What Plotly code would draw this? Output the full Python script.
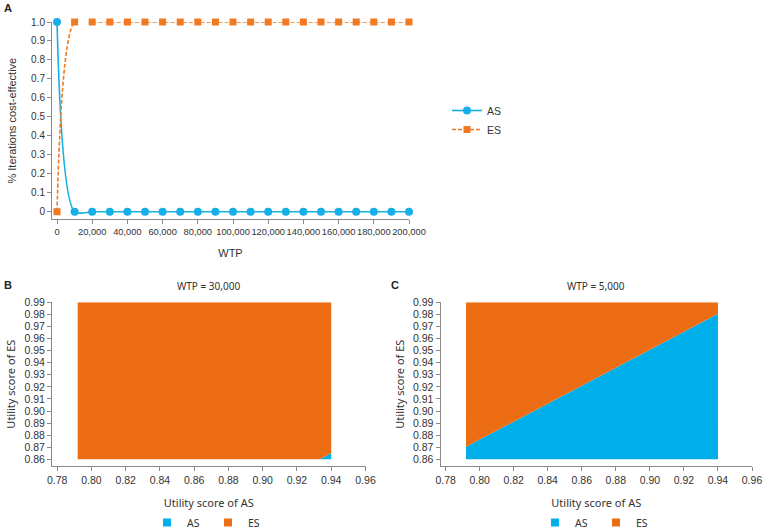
import plotly.graph_objects as go

# ---------------- data ----------------
wtp = [0, 10000, 20000, 30000, 40000, 50000, 60000, 70000, 80000, 90000, 100000,
       110000, 120000, 130000, 140000, 150000, 160000, 170000, 180000, 190000, 200000]
as_prob = [1.0, 0, 0, 0, 0, 0, 0, 0, 0, 0, 0, 0, 0, 0, 0, 0, 0, 0, 0, 0, 0]
es_prob = [0, 1.0, 1.0, 1.0, 1.0, 1.0, 1.0, 1.0, 1.0, 1.0, 1.0, 1.0, 1.0, 1.0, 1.0,
           1.0, 1.0, 1.0, 1.0, 1.0, 1.0]
a_yticks = [0, 0.1, 0.2, 0.3, 0.4, 0.5, 0.6, 0.7, 0.8, 0.9, 1.0]
a_yticktext = ["0", "0.1", "0.2", "0.3", "0.4", "0.5", "0.6", "0.7", "0.8", "0.9", "1.0"]
a_xticks = [0, 20000, 40000, 60000, 80000, 100000, 120000, 140000, 160000, 180000, 200000]

es_util_min = 0.86
es_util_max = 0.99
# WTP = 30,000 : boundary of ES utility where AS and ES are equally preferred
b_as_util = [0.792, 0.9334, 0.94]
b_es_bound = [0.86, 0.86, 0.8652]
# WTP = 5,000
c_as_util = [0.792, 0.94]
c_es_bound = [0.8704, 0.9805]

util_xticks = [0.78, 0.80, 0.82, 0.84, 0.86, 0.88, 0.90, 0.92, 0.94, 0.96]
util_yticks = [0.86, 0.87, 0.88, 0.89, 0.90, 0.91, 0.92, 0.93, 0.94, 0.95, 0.96, 0.97, 0.98, 0.99]

# ---------------- style ----------------
W, H = 763, 532
BLUE_LINE = "#17B0E6"
ORANGE_LINE = "#F07A22"
BLUE_FILL = "#00AEEA"
ORANGE_FILL = "#EC6D14"
AXIS_COL = "#8a8a8a"
TXT = "#333333"
TICKFONT = dict(family="Liberation Sans, Arial", size=10.5, color=TXT)
TITLEFONT = dict(family="Noto Sans, Open Sans", size=11, color=TXT)


def px_x(p):
    return p / W


def px_y(p):
    return 1 - p / H


fig = go.Figure()

# Panel A
fig.add_trace(go.Scatter(x=wtp, y=as_prob, name="AS", mode="lines+markers",
                         line=dict(color=BLUE_LINE, width=1.6, shape="spline", smoothing=0.8),
                         marker=dict(symbol="circle", size=8, color=BLUE_LINE),
                         xaxis="x", yaxis="y", legend="legend", cliponaxis=False))
fig.add_trace(go.Scatter(x=wtp, y=es_prob, name="ES", mode="lines+markers",
                         line=dict(color=ORANGE_LINE, width=1.6, dash="4px,2px", shape="spline", smoothing=0.8),
                         marker=dict(symbol="square", size=7, color=ORANGE_LINE),
                         xaxis="x", yaxis="y", legend="legend", cliponaxis=False))


def add_region(as_util, es_bound, xa, ya, leg):
    n = len(as_util)
    fig.add_trace(go.Scatter(x=as_util, y=[es_util_min] * n, mode="lines",
                             line=dict(width=0), showlegend=False, hoverinfo="skip",
                             xaxis=xa, yaxis=ya))
    fig.add_trace(go.Scatter(x=as_util, y=es_bound, mode="lines", fill="tonexty",
                             fillcolor=BLUE_FILL, line=dict(width=0), showlegend=False,
                             xaxis=xa, yaxis=ya))
    fig.add_trace(go.Scatter(x=as_util, y=[es_util_max] * n, mode="lines", fill="tonexty",
                             fillcolor=ORANGE_FILL, line=dict(width=0), showlegend=False,
                             xaxis=xa, yaxis=ya))
    # legend entries
    fig.add_trace(go.Scatter(x=[None], y=[None], name="AS", mode="markers",
                             marker=dict(symbol="square", size=8, color=BLUE_FILL),
                             xaxis=xa, yaxis=ya, legend=leg))
    fig.add_trace(go.Scatter(x=[None], y=[None], name="ES", mode="markers",
                             marker=dict(symbol="square", size=8, color=ORANGE_FILL),
                             xaxis=xa, yaxis=ya, legend=leg))


add_region(b_as_util, b_es_bound, "x2", "y2", "legend2")
add_region(c_as_util, c_es_bound, "x3", "y3", "legend3")

common_axis = dict(showline=True, linecolor=AXIS_COL, linewidth=1, ticks="outside",
                   ticklen=4, tickcolor=AXIS_COL, showgrid=False, zeroline=False,
                   tickfont=TICKFONT, automargin=False, tickangle=0)

util_x = dict(common_axis, range=[0.777, 0.96], tickvals=util_xticks, tickformat=".2f",
              title=dict(text="Utility score of AS", font=TITLEFONT, standoff=14))
util_y = dict(common_axis, range=[0.8545, 0.99], tickvals=util_yticks, tickformat=".2f",
              title=dict(text="Utility score of ES", font=TITLEFONT, standoff=6))

leg_small = dict(orientation="h", xanchor="center", yanchor="bottom", y=-5 / H,
                 font=dict(family="Noto Sans", size=10.5, color=TXT), bgcolor="rgba(0,0,0,0)",
                 itemwidth=30, traceorder="normal", entrywidth=16, entrywidthmode="pixels")

fig.update_layout(
    width=W, height=H, margin=dict(l=0, r=0, t=0, b=0, autoexpand=False),
    paper_bgcolor="white", plot_bgcolor="white",
    xaxis=dict(common_axis, domain=[px_x(52), px_x(409)], range=[-2850, 200000],
               tickvals=a_xticks, tickformat=",d", anchor="y",
               tickfont=dict(TICKFONT, size=9.3),
               title=dict(text="WTP", font=dict(family="Liberation Sans, Arial", size=11, color=TXT), standoff=12)),
    yaxis=dict(common_axis, domain=[px_y(219.3), px_y(22)], range=[-0.04, 1.0],
               tickvals=a_yticks, ticktext=a_yticktext, anchor="x",
               tickfont=dict(TICKFONT, size=10),
               title=dict(text="% Iterations cost-effective",
                          font=dict(family="Liberation Sans, Arial", size=11, color=TXT), standoff=12)),
    xaxis2=dict(util_x, domain=[px_x(52), px_x(365.5)], anchor="y2"),
    yaxis2=dict(util_y, domain=[px_y(466), px_y(302.3)], anchor="x2"),
    xaxis3=dict(util_x, domain=[px_x(440.5), px_x(752)], anchor="y3"),
    yaxis3=dict(util_y, domain=[px_y(466), px_y(302.3)], anchor="x3"),
    legend=dict(x=px_x(447), y=px_y(120), xanchor="left", yanchor="middle",
                font=dict(family="Liberation Sans, Arial", size=10.5, color=TXT),
                bgcolor="rgba(0,0,0,0)", tracegroupgap=0, traceorder="normal"),
    legend2=dict(leg_small, x=px_x(208)),
    legend3=dict(leg_small, x=px_x(596)),
    annotations=[
        dict(text="<b>A</b>", x=px_x(2), y=px_y(8), xref="paper", yref="paper",
             xanchor="left", yanchor="middle", showarrow=False,
             font=dict(family="Liberation Sans, Arial", size=11, color="#222")),
        dict(text="<b>B</b>", x=px_x(2), y=px_y(285), xref="paper", yref="paper",
             xanchor="left", yanchor="middle", showarrow=False,
             font=dict(family="Liberation Sans, Arial", size=11, color="#222")),
        dict(text="<b>C</b>", x=px_x(389), y=px_y(285), xref="paper", yref="paper",
             xanchor="left", yanchor="middle", showarrow=False,
             font=dict(family="Liberation Sans, Arial", size=11, color="#222")),
        dict(text="WTP = 30,000", x=px_x(208.7), y=px_y(286), xref="paper", yref="paper",
             xanchor="center", yanchor="middle", showarrow=False,
             font=dict(family="Noto Sans", size=10, color=TXT)),
        dict(text="WTP = 5,000", x=px_x(596), y=px_y(286), xref="paper", yref="paper",
             xanchor="center", yanchor="middle", showarrow=False,
             font=dict(family="Noto Sans", size=10, color=TXT)),
    ],
)

fig.write_html("out.html", config={"displayModeBar": False},
               post_script="document.body.style.margin='0px';")
